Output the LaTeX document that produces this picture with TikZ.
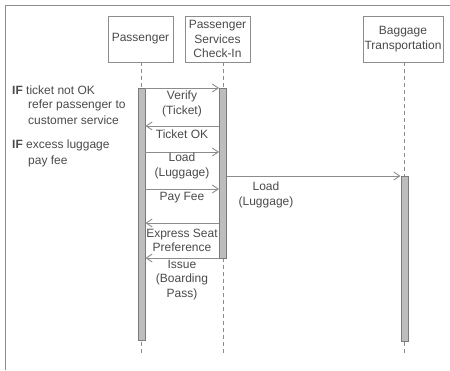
\documentclass[tikz,border=0pt]{standalone}
\usepackage{fontspec}
\setmainfont{Liberation Sans}
\usetikzlibrary{arrows.meta}
\definecolor{ink}{HTML}{4A4A4A}
\definecolor{rule}{HTML}{8C8C8C}
\definecolor{barfill}{HTML}{BDBDBD}
\definecolor{bardraw}{HTML}{7A7A7A}
\tikzset{
  txt/.style={font=\fontsize{12}{14.5}\selectfont, text=ink},
  head/.style={txt, draw=rule, line width=0.9pt, fill=white, align=center,
    minimum height=46pt, inner sep=1pt},
  actbar/.style={draw=bardraw, fill=barfill, line width=0.8pt, minimum width=7pt,
    inner sep=0pt},
  life/.style={draw=rule, line width=0.8pt, dash pattern=on 4pt off 3pt},
  msg/.style={draw=rule, line width=0.9pt, -{Straight Barb[length=6pt,width=8pt]}},
  lbl/.style={txt, align=center, inner sep=0pt},
  note/.style={txt, align=left, inner sep=0pt, anchor=west},
}
\begin{document}
\begin{tikzpicture}[x=1pt, y=-1pt]
\useasboundingbox (0,0) rectangle (450,370);
% frame
\draw[rule, line width=1pt] (450,5) -- (5,5) -- (5,370);

% lifeline heads
\node[head, minimum width=65pt] (pas) at (140.5,39) {Passenger};
\node[head, minimum width=65pt] (psc) at (217.5,39) {Passenger\\Services\\Check-In};
\node[head, minimum width=80pt] (bag) at (403,39) {Baggage\\Transportation};

% lifelines
\coordinate (pasend) at (141.5,356);
\coordinate (pscend) at (223,356);
\coordinate (bagend) at (404.5,356);
\draw[life] (pas.south -| pasend) -- (pasend);
\draw[life] (psc.south -| pscend) -- (pscend);
\draw[life] (bag.south -| bagend) -- (bagend);

% activation bars
\node[actbar, minimum height=252pt] (pb) at (141.5,214) {};
\node[actbar, minimum height=170pt] (cb) at (223,173) {};
\node[actbar, minimum height=165pt] (bb) at (404.5,258.5) {};

% messages
\draw[msg] (pb.east |- 0,88) -- (cb.west |- 0,88);
\node[lbl] (l1) at (182,104) {Verify\\(Ticket)};
\draw[msg] (cb.west |- 0,126) -- (pb.east |- 0,126);
\node[lbl] (l2) at (182,134) {Ticket OK};
\draw[msg] (pb.east |- 0,152) -- (cb.west |- 0,152);
\node[lbl] (l3) at (182,166) {Load\\(Luggage)};
\draw[msg] (pb.east |- 0,189) -- (cb.west |- 0,189);
\node[lbl] (l4) at (182,198) {Pay Fee};
\draw[msg] (cb.east |- 0,176) -- (bb.west |- 0,176);
\node[lbl] (l5) at (266,195) {Load\\(Luggage)};
\draw[msg] (cb.west |- 0,223) -- (pb.east |- 0,223);
\node[lbl] (l6) at (182,240.5) {Express Seat\\Preference};
\draw[msg] (cb.west |- 0,258) -- (pb.east |- 0,258);
\node[lbl] (l7) at (182,280) {Issue\\(Boarding\\Pass)};

% guard notes
\node[note] (n1) at (12,90) {\textbf{IF} ticket not OK};
\node[note] (n2) at (28,105) {refer passenger to};
\node[note] (n3) at (28,120) {customer service};
\node[note] (n4) at (12,145.5) {\textbf{IF} excess luggage};
\node[note] (n5) at (28,161) {pay fee};
\end{tikzpicture}
\end{document}
